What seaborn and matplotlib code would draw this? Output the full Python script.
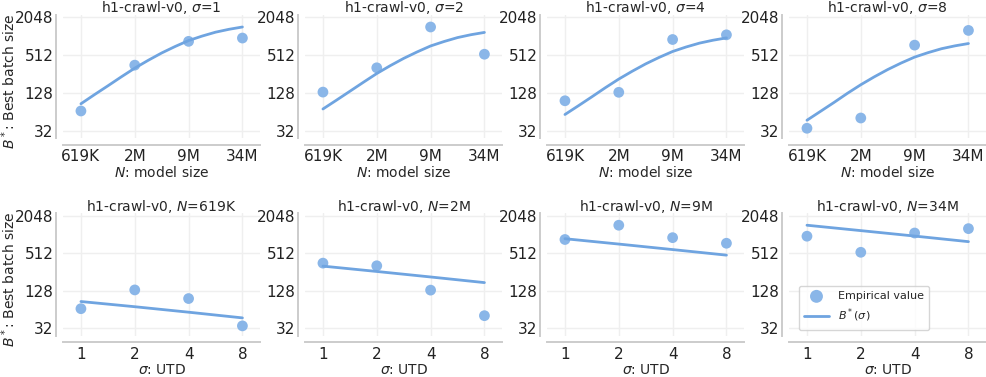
import numpy as np
import pandas as pd
import matplotlib
matplotlib.use("Agg")
import matplotlib.pyplot as plt
import seaborn as sns

# model sizes and UTD values shown on the x axes
N_LABELS = ["619K", "2M", "9M", "34M"]
SIGMAS = [1, 2, 4, 8]

# empirical best batch size, one list per sigma (over N_LABELS)
emp_s1 = [66, 355, 850, 960]
emp_s2 = [132, 322, 1440, 530]
emp_s3 = [96, 131, 910, 1080]
emp_s4 = [35, 51, 740, 1270]

# fitted B*(N, sigma), read at every quarter step along the N axis
fit_s1 = [86, 120, 166, 231, 318, 424, 555, 704, 875, 1031, 1190, 1323, 1440]
fit_s2 = [71, 98, 136, 189, 261, 348, 455, 577, 718, 845, 976, 1085, 1180]
fit_s3 = [58, 80, 111, 155, 213, 284, 372, 472, 586, 691, 797, 886, 965]
fit_s4 = [47, 65, 90, 126, 173, 231, 302, 384, 477, 562, 649, 721, 785]

EMP = [emp_s1, emp_s2, emp_s3, emp_s4]
FIT = [fit_s1, fit_s2, fit_s3, fit_s4]

YTICKS = [32, 128, 512, 2048]
DOT_C = "#8ab6e8"
LINE_C = "#6fa4e0"

sns.set_theme(style="whitegrid", rc={"grid.color": "#efefef", "axes.edgecolor": "#cccccc",
                                     "axes.linewidth": 1.4})
plt.rcParams["font.family"] = ["DejaVu Sans"]

fig, axes = plt.subplots(2, 4, figsize=(9.87, 3.77), dpi=100)

idx = np.arange(4)
fit_x = np.linspace(0, 3, len(fit_s1))


def style_ax(ax, labels, xlabel, first):
    ax.set_yscale("log", base=2)
    ax.set_ylim(24.5, 2230)
    ax.set_yticks(YTICKS)
    ax.set_yticklabels([str(t) for t in YTICKS], fontsize=10)
    ax.minorticks_off()
    ax.set_xlim(-0.33, 3.33)
    ax.set_xticks(idx)
    ax.set_xticklabels(labels, fontsize=10)
    ax.set_xlabel(xlabel, fontsize=10, labelpad=1)
    ax.set_ylabel("$B^*$: Best batch size" if first else "", fontsize=10)
    ax.yaxis.set_label_coords(-0.228, 0.46)
    ax.tick_params(axis="x", colors="#222222", length=0, pad=3)
    ax.tick_params(axis="y", colors="#222222", length=0, pad=2)
    sns.despine(ax=ax, offset=5)


# top row: B* vs model size for each sigma
for j, s in enumerate(SIGMAS):
    ax = axes[0, j]
    sns.lineplot(x=fit_x, y=FIT[j], ax=ax, color=LINE_C, lw=2)
    sns.scatterplot(x=idx, y=EMP[j], ax=ax, color=DOT_C, s=60, edgecolor="none")
    ax.set_title(f"h1-crawl-v0, $\\sigma$={s}", fontsize=10, pad=2)
    style_ax(ax, N_LABELS, "$N$: model size", j == 0)
    ax.set_position([0.064 + j * 0.2452, 0.634, 0.1996, 0.326])

# bottom row: B* vs sigma for each model size
fit_at_n = [0, 4, 8, 12]
for j, n in enumerate(N_LABELS):
    ax = axes[1, j]
    emp_col = [EMP[i][j] for i in range(4)]
    fit_col = [FIT[i][fit_at_n[j]] for i in range(4)]
    sns.scatterplot(x=idx, y=emp_col, ax=ax, color=DOT_C, s=60, edgecolor="none",
                    label="Empirical value")
    sns.lineplot(x=idx, y=fit_col, ax=ax, color=LINE_C, lw=2, label="$B^*(\\sigma)$")
    ax.set_title(f"h1-crawl-v0, $N$={n}", fontsize=10, pad=2)
    style_ax(ax, [str(s) for s in SIGMAS], "$\\sigma$: UTD", j == 0)
    ax.set_position([0.064 + j * 0.2452, 0.110, 0.1996, 0.324])
    if j == 3:
        ax.legend(loc="lower left", fontsize=8, frameon=True, borderpad=0.5,
                  handlelength=2.2, markerscale=1.2, bbox_to_anchor=(0.02, 0.0))
    else:
        ax.get_legend().remove()

fig.savefig("out.png", dpi=100)
